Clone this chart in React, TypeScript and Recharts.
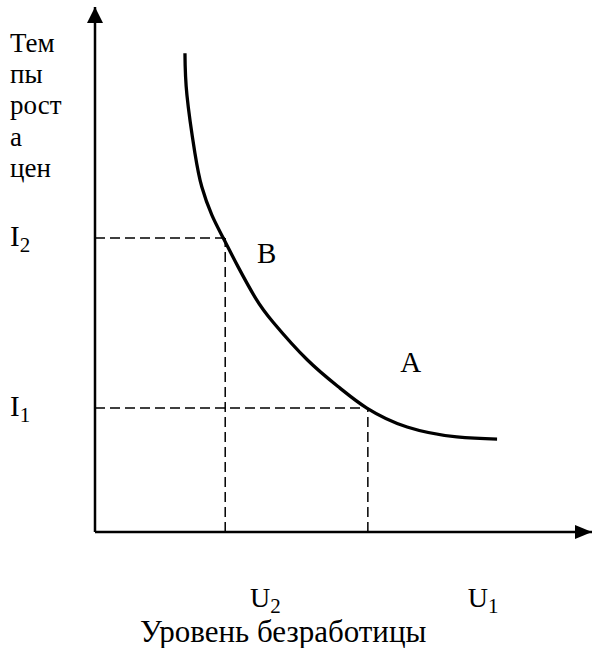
import React from "react"
import {
  ComposedChart,
  Line,
  XAxis,
  YAxis,
  ReferenceLine,
  ReferenceDot,
  Label,
} from "recharts"

// Phillips curve: inflation vs unemployment (arbitrary units 0..10)
const CURVE_X = [1.81, 1.85, 2.01, 2.15, 2.35, 2.58, 2.88, 3.24, 3.58, 4.27, 4.93, 5.47, 6.28, 7.28, 8.09]
const CURVE_Y = [9.12, 8.32, 7.22, 6.57, 6.04, 5.6, 5.05, 4.44, 4.0, 3.28, 2.74, 2.36, 2.0, 1.81, 1.77]

// reference levels: index 0 = point A (I1/U1), index 1 = point B (I2/U2)
const I_LEVELS = [2.36, 5.6]
const U_LEVELS = [5.49, 2.62]
const I_SUBS = ["1", "2"]

// x-axis labels sit a bit off the dashed lines
const U_TICKS = [3.12, 7.5]
const U_SUBS = ["2", "1"]

const POINT_NAMES = ["B", "A"]
const POINT_X = [3.26, 6.14]
const POINT_Y = [5.12, 3.05]

const Y_TITLE = ["Тем", "пы", "рост", "а", "цен"]
const X_TITLE = "Уровень безработицы"

const X_MAX = 10
const Y_MAX = 10

const FONT = "'Liberation Serif', 'Times New Roman', serif"
const textStyle = { fontFamily: FONT }

const curveData = CURVE_X.map((x, i) => ({ x, y: CURVE_Y[i] }))

function ITick({ y, index }: any) {
  return (
    <text x={10} y={y + 8} style={textStyle} fontSize={29} fill="#000">
      I
      <tspan dy={6} fontSize={21}>
        {I_SUBS[index]}
      </tspan>
    </text>
  )
}

function UTick({ x, y, index }: any) {
  return (
    <text x={x} y={y + 67} style={textStyle} fontSize={28} fill="#000">
      U
      <tspan dy={6} fontSize={21}>
        {U_SUBS[index]}
      </tspan>
    </text>
  )
}

function YTitle({ viewBox }: any) {
  return (
    <text style={textStyle} fontSize={27} fill="#000">
      {Y_TITLE.map((line, i) => (
        <tspan key={line} x={10} y={viewBox.y + 45 + i * 31.2}>
          {line}
        </tspan>
      ))}
    </text>
  )
}

function XTitle({ viewBox }: any) {
  return (
    <text
      x={viewBox.x + 45}
      y={viewBox.y + 110}
      style={textStyle}
      fontSize={31}
      fill="#000"
    >
      {X_TITLE}
    </text>
  )
}

const xArrow = ({ cx, cy }: any) => (
  <polygon
    points={`${cx},${cy} ${cx - 17},${cy - 7} ${cx - 17},${cy + 7}`}
    fill="#000"
  />
)

const yArrow = ({ cx, cy }: any) => (
  <polygon
    points={`${cx},${cy} ${cx - 8},${cy + 16} ${cx + 8},${cy + 16}`}
    fill="#000"
  />
)

const pointLabel = (name: string) => ({ cx, cy }: any) => (
  <text x={cx} y={cy} style={textStyle} fontSize={29} fill="#000">
    {name}
  </text>
)

export default function App() {
  return (
    <div
      style={{
        position: "absolute",
        left: 0,
        top: 0,
        width: 598,
        height: 648,
        background: "#fff",
        fontFamily: FONT,
      }}
    >
      <ComposedChart
        width={598}
        height={648}
        margin={{ top: 7, right: 6, left: 35, bottom: 0 }}
      >
        <XAxis
          type="number"
          dataKey="x"
          domain={[0, X_MAX]}
          ticks={U_TICKS}
          tick={<UTick />}
          tickLine={false}
          axisLine={{ stroke: "#000", strokeWidth: 2.5 }}
          height={116}
          allowDataOverflow
        >
          <Label content={<XTitle />} />
        </XAxis>
        <YAxis
          type="number"
          dataKey="y"
          domain={[0, Y_MAX]}
          ticks={I_LEVELS}
          tick={<ITick />}
          tickLine={false}
          axisLine={{ stroke: "#000", strokeWidth: 2.5 }}
          width={60}
          allowDataOverflow
        >
          <Label content={<YTitle />} />
        </YAxis>

        {I_LEVELS.map((lvl, i) => (
          <ReferenceLine
            key={`h-${i}`}
            segment={[
              { x: 0, y: lvl },
              { x: U_LEVELS[i], y: lvl },
            ]}
            stroke="#000"
            strokeWidth={1.5}
            strokeDasharray="10 5"
          />
        ))}
        {U_LEVELS.map((u, i) => (
          <ReferenceLine
            key={`v-${i}`}
            segment={[
              { x: u, y: 0 },
              { x: u, y: I_LEVELS[i] },
            ]}
            stroke="#000"
            strokeWidth={1.5}
            strokeDasharray="10 5"
          />
        ))}

        <Line
          data={curveData}
          dataKey="y"
          type="natural"
          stroke="#000"
          strokeWidth={3.3}
          dot={false}
          isAnimationActive={false}
        />

        {POINT_NAMES.map((name, i) => (
          <ReferenceDot
            key={name}
            x={POINT_X[i]}
            y={POINT_Y[i]}
            shape={pointLabel(name)}
          />
        ))}

        <ReferenceDot x={X_MAX} y={0} shape={xArrow} />
        <ReferenceDot x={0} y={Y_MAX} shape={yArrow} />
      </ComposedChart>
    </div>
  )
}
